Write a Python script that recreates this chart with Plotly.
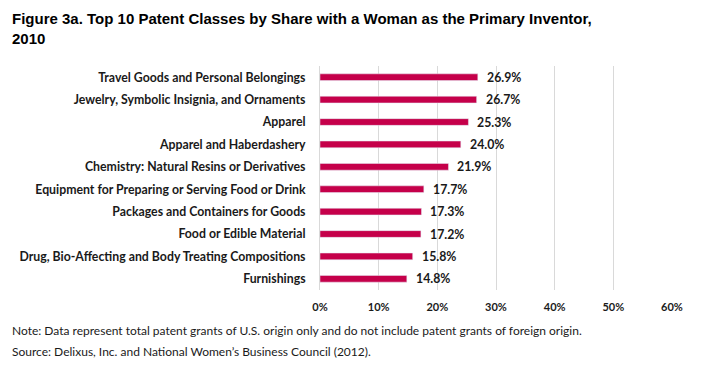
import plotly.graph_objects as go

categories = [
    "Travel Goods and Personal Belongings",
    "Jewelry, Symbolic Insignia, and Ornaments",
    "Apparel",
    "Apparel and Haberdashery",
    "Chemistry: Natural Resins or Derivatives",
    "Equipment for Preparing or Serving Food or Drink",
    "Packages and Containers for Goods",
    "Food or Edible Material",
    "Drug, Bio-Affecting and Body Treating Compositions",
    "Furnishings",
]
shares = [0.269, 0.267, 0.253, 0.240, 0.219, 0.177, 0.173, 0.172, 0.158, 0.148]
tick_vals = [0, 0.1, 0.2, 0.3, 0.4, 0.5, 0.6]
tick_text = ["0%", "10%", "20%", "30%", "40%", "50%", "60%"]

W, H = 701, 367
L, R, T, B = 320, 29, 66, 77
pw, ph = W - L - R, H - T - B

def px(x):
    return (x - L) / pw

def py(y):
    return (H - B - y) / ph

fig = go.Figure(go.Bar(
    x=shares, y=categories, orientation="h",
    marker=dict(color="#C5004A"),
    width=0.3,
    cliponaxis=False,
    hoverinfo="skip",
))

label_font = dict(family="Lato", size=12.3, color="#1a1a1a", weight="bold")
annotations = [
    dict(x=v, y=c, xref="x", yref="y", text=f"{v*100:.1f}%", showarrow=False,
         xanchor="left", yanchor="middle", xshift=7, font=label_font)
    for c, v in zip(categories, shares)
]
annotations += [
    dict(text="Figure 3a. Top 10 Patent Classes by Share with a Woman as the Primary Inventor,<br>2010",
         xref="paper", yref="paper", x=px(10), y=py(8), xanchor="left", yanchor="top",
         align="left", showarrow=False,
         font=dict(family="Liberation Sans", size=15, color="black", weight="bold")),
    dict(text="Note: Data represent total patent grants of U.S. origin only and do not include patent grants of foreign origin.",
         xref="paper", yref="paper", x=px(10), y=py(330), xanchor="left", yanchor="middle",
         showarrow=False, font=dict(family="Lato", size=12, color="#1a1a1a")),
    dict(text="Source: Delixus, Inc. and National Women’s Business Council (2012).",
         xref="paper", yref="paper", x=px(10), y=py(351), xanchor="left", yanchor="middle",
         showarrow=False, font=dict(family="Lato", size=12, color="#1a1a1a")),
]

fig.update_layout(
    width=W, height=H,
    margin=dict(l=L, r=R, t=T, b=B, autoexpand=False),
    paper_bgcolor="white", plot_bgcolor="white",
    showlegend=False,
    xaxis=dict(range=[0, 0.6], tickvals=tick_vals, ticktext=tick_text,
               showgrid=True, gridcolor="#D9D9D9", gridwidth=1,
               zeroline=False, showline=False, automargin=False,
               tickfont=dict(family="Lato", size=11, color="#1a1a1a", weight="bold"),
               ticks="", ticklen=0, ticklabelstandoff=9),
    yaxis=dict(autorange="reversed", showgrid=False, zeroline=False,
               showline=True, linecolor="#D9D9D9", linewidth=1, automargin=False,
               tickfont=label_font,
               ticks="", ticklabelstandoff=11),
    annotations=annotations,
)

fig.write_html("out.html", config={"displayModeBar": False},
               post_script="document.body.style.margin='0';")
